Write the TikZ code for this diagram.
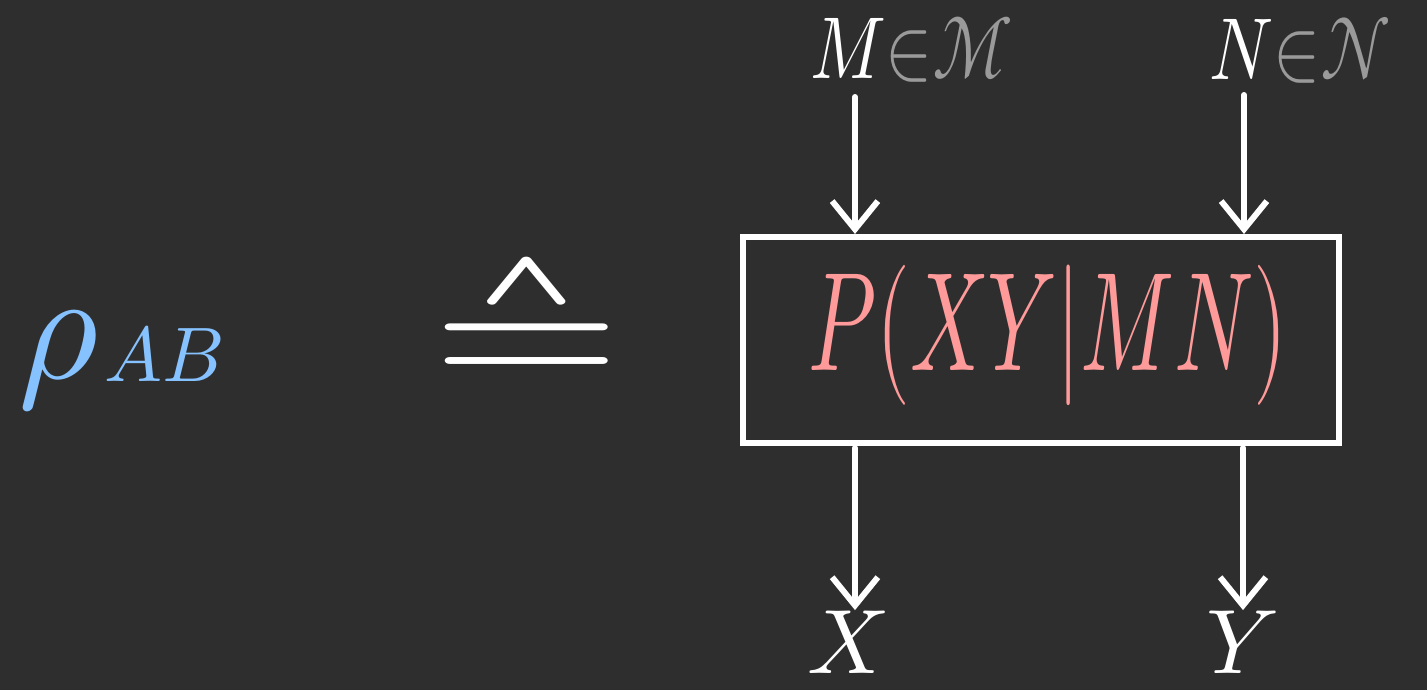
\documentclass[tikz,border=0pt]{standalone}
\usepackage{fontspec}
\usepackage{unicode-math}
\setmathfont{Latin Modern Math}
\usetikzlibrary{arrows.meta}
\definecolor{bg}{HTML}{2E2E2E}
\definecolor{rhoblue}{HTML}{86C2FF}
\definecolor{pinkp}{HTML}{FF9A9A}
\definecolor{greyset}{HTML}{9A9A9A}
\tikzset{
  wire/.style={draw=white, line width=1.7pt, line cap=round, -{Straight Barb[length=8pt,width=13pt,line width=1.7pt]}},
  frame/.style={draw=white, line width=1.7pt, minimum width=5.96cm, minimum height=2.06cm, inner sep=0pt},
  lbl/.style={text=white, inner sep=0pt, font=\fontsize{25}{25}\selectfont},
}
\begin{document}
\begin{tikzpicture}[x=0.01cm,y=-0.01cm]
\fill[bg] (0,0) rectangle (1427,690);
\useasboundingbox (0,0) rectangle (1427,690);

\node[inner sep=0pt, text=rhoblue, anchor=base west] (rho) at (18,378) {\fontsize{44}{44}\selectfont$\rho$\kern1pt\raisebox{-1pt}{\fontsize{22}{22}\selectfont$AB$}};
\node[inner sep=0pt, text=white] (est) at (527,322) {\fontsize{58}{58}\selectfont\scalebox{1.2}[0.85]{$\wedgeq$}};

\node[frame] (box) at (1041,340) {};
\node[inner sep=0pt, text=pinkp] (p) at (1048,335) {\fontsize{40}{40}\selectfont\scalebox{0.62}[1]{$P(XY|MN)$}};

\node[lbl] (m) at (912,50) {\scalebox{0.8}[1]{$M\textcolor{greyset}{{\in}\mathcal{M}}$}};
\node[lbl] (n) at (1300,50) {\scalebox{0.8}[1]{$N\textcolor{greyset}{{\in}\mathcal{N}}$}};

\coordinate (ma) at (855,97);
\coordinate (na) at (1244,95);
\coordinate (xa) at (855,448);
\coordinate (ya) at (1243,448);

\node[lbl, font=\fontsize{26}{26}\selectfont] (x) at (848,642) {$X$};
\node[lbl, font=\fontsize{26}{26}\selectfont] (y) at (1243,642) {$Y$};

\draw[wire] (ma) -- (ma |- box.north);
\draw[wire] (na) -- (na |- box.north);
\draw[wire] (xa) -- (xa |- x.north);
\draw[wire] (ya) -- (ya |- y.north);
\end{tikzpicture}
\end{document}
